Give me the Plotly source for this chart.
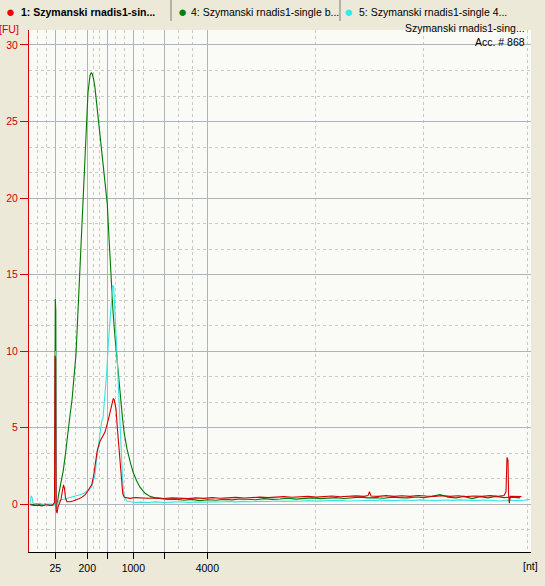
import plotly.graph_objects as go

# ---------------- data (migration time in s, fluorescence in FU) ----------------
# Sample 1 (red)
t_s1 = [20.0, 20.4, 20.8, 21.2, 21.6, 22.0, 22.3, 22.45, 22.5, 22.56, 22.62, 22.7, 22.8, 22.95,
        23.1, 23.25, 23.35, 23.45, 23.55, 23.7, 24.0, 24.3, 24.6, 24.9, 25.2, 25.5, 25.73, 25.95,
        26.17, 26.35, 26.5, 26.73, 27.0, 27.25, 27.5, 27.83, 28.05, 28.23, 28.33, 28.43, 28.6,
        28.73, 28.85, 28.95, 29.05, 29.17, 29.27, 29.43, 29.7, 30.0, 30.5,
        31.0, 31.8, 32.6, 33.4, 34.2, 35.0, 35.8, 36.6, 37.4, 38.2, 39.0, 39.8, 40.6, 41.4, 42.2,
        43.0, 43.8, 44.6, 45.4, 46.2, 47.0, 47.8, 48.6, 49.4, 50.2, 51.0, 51.8, 52.6, 53.4,
        53.8, 53.95, 54.1, 54.8, 55.6, 56.4, 57.2, 58.0, 58.8, 59.6, 60.4, 61.2, 62.0, 62.8, 63.6,
        64.4, 65.2, 66.0, 66.8, 67.4, 67.6, 67.7, 67.8, 67.86, 67.93, 68.03, 68.4, 68.8, 69.15]
fu_s1 = [-0.05, -0.1, -0.08, -0.12, -0.05, -0.1, -0.05, 0.1, 9.7, 9.5, -0.4, -0.6, -0.2, 0.1,
         0.3, 0.9, 1.25, 1.0, 0.4, 0.15, 0.15, 0.2, 0.25, 0.35, 0.45, 0.6, 0.8, 1.0,
         1.25, 1.8, 2.4, 3.5, 4.1, 4.4, 4.7, 5.5, 6.1, 6.7, 6.9, 6.8, 6.2,
         5.0, 4.0, 2.9, 2.2, 1.1, 0.7, 0.44, 0.4, 0.37, 0.42,
         0.4, 0.38, 0.4, 0.36, 0.4, 0.38, 0.35, 0.4, 0.37, 0.42, 0.38, 0.4, 0.43, 0.39, 0.42,
         0.45, 0.42, 0.45, 0.48, 0.44, 0.47, 0.5, 0.45, 0.48, 0.52, 0.47, 0.5, 0.53, 0.5,
         0.55, 0.8, 0.52, 0.5, 0.55, 0.5, 0.54, 0.5, 0.56, 0.52, 0.5, 0.55, 0.5, 0.54, 0.48,
         0.52, 0.5, 0.55, 0.5, 0.55, 0.8, 3.05, 2.85, 0.6, 0.05, 0.5, 0.48, 0.5, 0.48]

# Sample 4 (green)
t_s4 = [20.0, 20.3, 20.7, 21.1, 21.5, 21.9, 22.2, 22.45, 22.53, 22.58, 22.63, 22.7, 22.83, 23.05,
        23.33, 23.55, 23.75, 24.0, 24.2, 24.4, 24.6, 24.8, 25.0, 25.2, 25.4, 25.6, 25.8, 26.0,
        26.13, 26.23, 26.35, 26.5, 26.7, 27.0, 27.3, 27.5, 27.73, 27.9, 28.1, 28.3, 28.5, 28.73,
        28.9, 29.05, 29.25, 29.43, 29.7, 30.0, 30.3, 30.67, 31.0, 31.5, 32.0, 32.5, 33.0,
        33.8, 34.6, 35.4, 36.2, 37.0, 37.8, 38.6, 39.4, 40.2, 41.0, 41.8, 42.6, 43.4, 44.2, 45.0,
        45.8, 46.6, 47.4, 48.2, 49.0, 49.8, 50.6, 51.4, 52.2, 53.0, 53.8, 54.6, 55.4, 56.2, 57.0,
        57.8, 58.6, 59.4, 60.2, 61.0, 61.8, 62.6, 63.4, 64.2, 65.0, 65.8, 66.6, 67.4, 68.2, 69.0]
fu_s4 = [0.0, -0.05, 0.02, -0.08, 0.0, -0.05, -0.1, 0.0, 13.4, 12.6, -0.3, -0.2, 0.5, 1.2,
         2.2, 3.3, 4.6, 5.8, 6.8, 8.2, 9.8, 12.6, 15.5, 18.5, 21.6, 24.8, 26.9, 28.0,
         28.2, 28.1, 27.8, 27.2, 26.0, 24.2, 22.4, 21.2, 19.6, 17.4, 14.8, 12.6, 10.9, 9.2,
         7.9, 6.9, 5.6, 4.6, 3.6, 2.8, 2.1, 1.5, 1.1, 0.7, 0.5, 0.4, 0.35,
         0.3, 0.32, 0.25, 0.3, 0.22, 0.28, 0.25, 0.3, 0.27, 0.33, 0.3, 0.28, 0.35, 0.3, 0.33,
         0.38, 0.32, 0.36, 0.4, 0.35, 0.38, 0.42, 0.36, 0.4, 0.45, 0.4, 0.42, 0.38, 0.45, 0.42,
         0.4, 0.46, 0.42, 0.5, 0.62, 0.45, 0.4, 0.5, 0.35, 0.48, 0.4, 0.5, 0.42, 0.45, 0.4]

# Sample 5 (cyan)
t_s5 = [20.0, 20.1, 20.2, 20.3, 20.6, 21.0, 21.4, 21.8, 22.2, 22.45, 22.56, 22.65, 22.75, 22.8,
        23.0, 23.3, 23.67, 24.0, 24.33, 24.7, 25.0, 25.4, 25.83, 26.17, 26.35, 26.5, 26.67, 26.83,
        27.0, 27.17, 27.3, 27.5, 27.67, 27.83, 28.0, 28.17, 28.27, 28.37, 28.5, 28.62, 28.73,
        28.83, 28.93, 29.02, 29.1, 29.23, 29.33, 29.45, 29.67, 30.0, 30.5,
        31.0, 31.8, 32.6, 33.4, 34.2, 35.0, 35.8, 36.6, 37.4, 38.2, 39.0, 39.8, 40.6, 41.4, 42.2,
        43.0, 43.8, 44.6, 45.4, 46.2, 47.0, 47.8, 48.6, 49.4, 50.2, 51.0, 51.8, 52.6, 53.4, 54.2,
        54.9, 55.0, 55.1, 55.8, 56.6, 57.4, 58.2, 59.0, 59.8, 60.6, 61.4, 62.2, 63.0, 63.8, 64.6,
        65.4, 66.2, 67.0, 67.8, 68.6, 69.4, 70.0]
fu_s5 = [0.05, 0.5, 0.45, 0.05, 0.0, 0.05, -0.05, 0.0, 0.0, -0.1, 10.0, -0.3, -0.1, 0.1,
         0.25, 0.3, 0.37, 0.4, 0.48, 0.55, 0.6, 0.7, 0.9, 1.13, 1.5, 1.9, 3.0, 3.9,
         4.7, 5.4, 5.6, 7.0, 8.6, 10.5, 12.0, 13.4, 14.3, 14.2, 12.7, 11.0, 9.4,
         7.8, 6.1, 4.6, 3.7, 2.0, 0.9, 0.5, 0.2, 0.15, 0.1,
         0.12, 0.1, 0.14, 0.1, 0.12, 0.15, 0.1, 0.14, 0.12, 0.15, 0.13, 0.16, 0.14, 0.17, 0.15,
         0.18, 0.16, 0.2, 0.17, 0.2, 0.18, 0.22, 0.19, 0.21, 0.2, 0.24, 0.2, 0.23, 0.22, 0.25,
         0.22, 0.5, 0.2, 0.24, 0.22, 0.26, 0.23, 0.27, 0.25, 0.22, 0.26, 0.24, 0.27, 0.24, 0.22,
         0.26, 0.24, 0.2, 0.24, 0.22, 0.25, 0.3]

# Ladder (size axis) ticks
ladder_times = [22.53, 25.73, 27.73, 30.33, 33.43, 37.73]
ladder_labels = ["25", "200", "", "1000", "", "4000"]
minor_grid_times = [20.77, 21.63, 23.57, 24.57, 26.33, 26.9, 28.57, 29.4, 31.33, 34.87,
                    36.27, 48.5, 59.33, 69.77]

sample_names = ["1: Szymanski rnadis1-sin...", "4: Szymanski rnadis1-single b...",
                "5: Szymanski rnadis1-single 4..."]
sample_colors = ["#D40000", "#007A00", "#3DE3E3"]
dot_colors = ["#F00000", "#008000", "#33E8F0"]

FONT = "Liberation Sans, Arial, sans-serif"

fig = go.Figure()
for t, fu, c in [(t_s4, fu_s4, sample_colors[1]), (t_s5, fu_s5, sample_colors[2]),
                 (t_s1, fu_s1, sample_colors[0])]:
    fig.add_trace(go.Scatter(x=t, y=fu, mode="lines", line=dict(color=c, width=1.1),
                             showlegend=False, hoverinfo="skip"))

W, H = 545, 586
L, R, T, B = 29, 14, 30, 34
pw, ph = W - L - R, H - T - B


def px(xp):
    return (xp - L) / pw


def py(yp):
    return (H - B - yp) / ph


annotations = []
shapes = []
# tab bar
tab_dot_x = [10.5, 182, 348]
tab_text_x = [19, 189, 357]
for i in range(3):
    annotations.append(dict(xref="paper", yref="paper", x=px(tab_dot_x[i]), y=py(11.5),
                            text="●", showarrow=False, xanchor="center", yanchor="middle",
                            font=dict(family=FONT, size=15, color=dot_colors[i])))
    txt = "<b>%s</b>" % sample_names[i] if i == 0 else sample_names[i]
    annotations.append(dict(xref="paper", yref="paper", x=px(tab_text_x[i]), y=py(11.5),
                            text=txt, showarrow=False, xanchor="left", yanchor="middle",
                            font=dict(family=FONT, size=10.5, color="#000000")))
for sx in [171, 340]:
    shapes.append(dict(type="line", xref="paper", yref="paper", x0=px(sx), x1=px(sx),
                       y0=py(0), y1=py(21), line=dict(color="#7A7A7A", width=1)))

annotations += [
    dict(xref="paper", yref="paper", x=px(9), y=py(29), text="[FU]", showarrow=False,
         xanchor="center", yanchor="middle", font=dict(family=FONT, size=10.5, color="#D40000")),
    dict(xref="paper", yref="paper", x=px(530), y=py(566), text="[nt]", showarrow=False,
         xanchor="center", yanchor="middle", font=dict(family=FONT, size=10.5, color="#000000")),
    dict(xref="paper", yref="paper", x=px(527), y=py(28), text="Szymanski rnadis1-sing...",
         showarrow=False, xanchor="right", yanchor="middle",
         font=dict(family=FONT, size=10.5, color="#000000")),
    dict(xref="paper", yref="paper", x=px(527), y=py(42), text="Acc. # 868",
         showarrow=False, xanchor="right", yanchor="middle",
         font=dict(family=FONT, size=10.5, color="#000000")),
]

fig.update_layout(
    width=W, height=H,
    margin=dict(l=L, r=R, t=T, b=B, pad=0, autoexpand=False),
    paper_bgcolor="#ECE9D8",
    plot_bgcolor="#FAFAF6",
    showlegend=False,
    annotations=annotations,
    shapes=shapes,
    xaxis=dict(
        range=[19.9, 70.1], tickmode="array", tickvals=ladder_times, ticktext=ladder_labels,
        showgrid=True, gridcolor="#AEB4BE", gridwidth=1, zeroline=False, automargin=False,
        showline=True, linecolor="#000000", linewidth=1, ticks="outside", ticklen=6,
        tickcolor="#000000", tickfont=dict(family=FONT, size=10.5, color="#000000"),
        minor=dict(tickmode="array", tickvals=minor_grid_times, showgrid=True,
                   gridcolor="#C9C9C9", griddash="3px,3px", gridwidth=1, ticks=""),
        fixedrange=True,
    ),
    yaxis=dict(
        range=[-3.137, 30.98], tickmode="linear", tick0=0, dtick=5,
        showgrid=True, gridcolor="#AEB4BE", gridwidth=1, zeroline=False, automargin=False,
        showline=True, linecolor="#D40000", linewidth=1, ticks="outside", ticklen=8,
        tickcolor="#D40000", tickfont=dict(family=FONT, size=10.5, color="#D40000"),
        minor=dict(dtick=5 / 3, tick0=0, showgrid=True, gridcolor="#C9C9C9",
                   griddash="3px,3px", gridwidth=1, ticks=""),
        fixedrange=True,
    ),
)

fig.write_html("out.html", config={"displayModeBar": False, "staticPlot": True},
               post_script="document.body.style.margin='0';document.body.style.overflow='hidden';")
